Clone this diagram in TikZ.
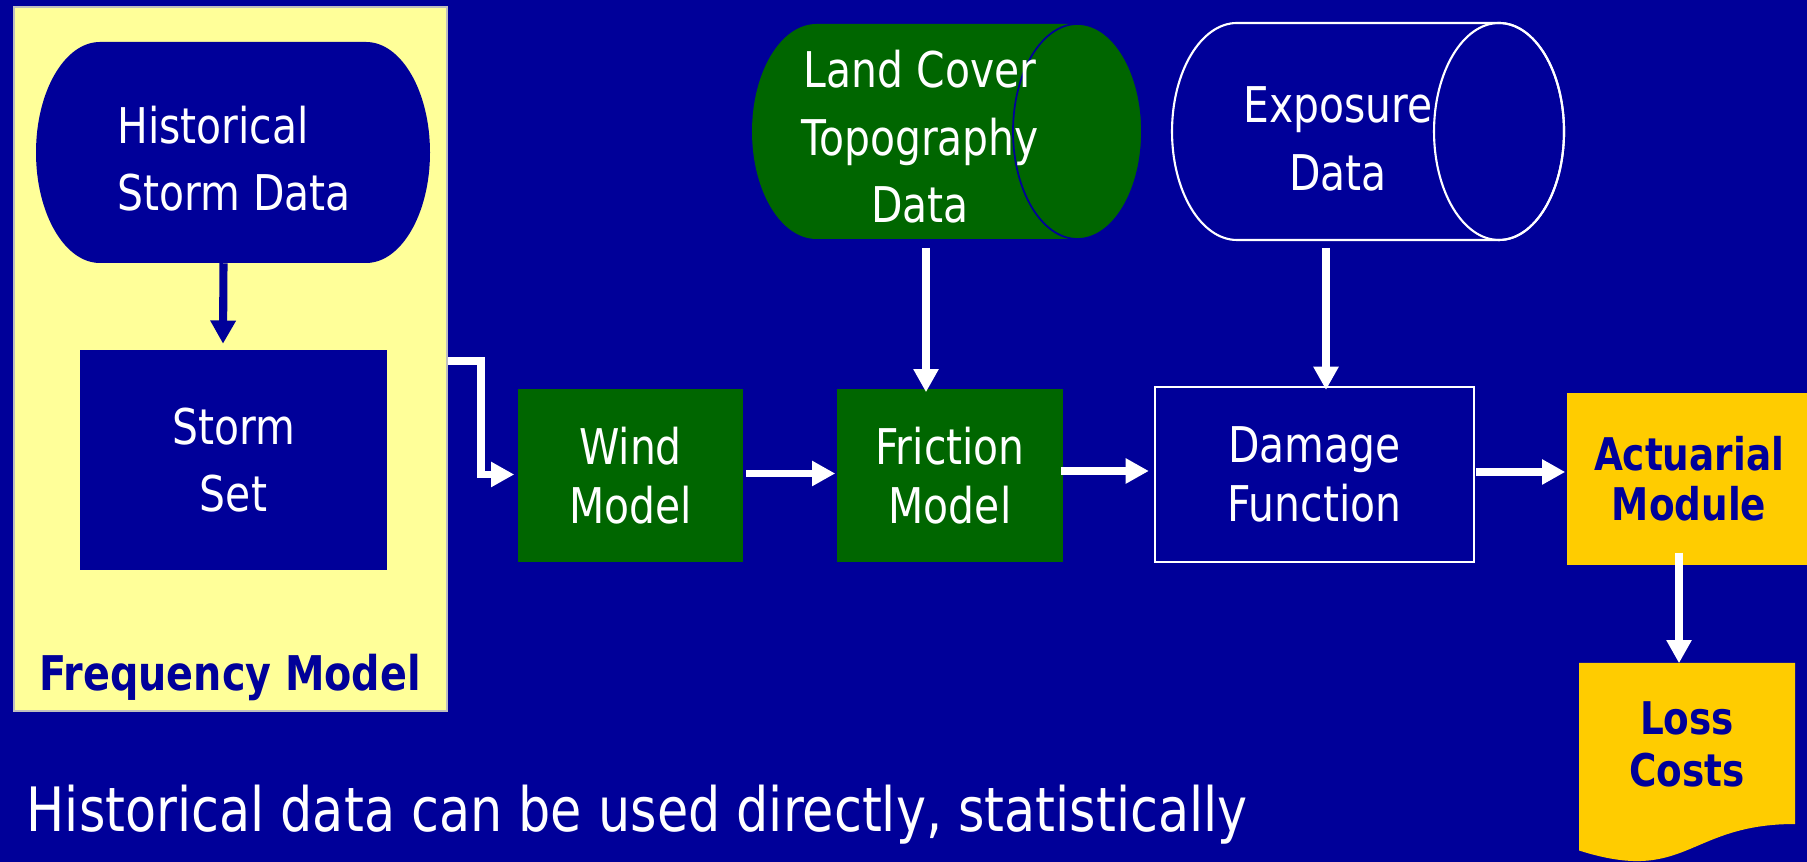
\documentclass[tikz,border=0pt]{standalone}
\usepackage{fontspec}
\setmainfont{DejaVu Sans}[FakeStretch=0.83]
\usetikzlibrary{arrows.meta,calc,positioning}

\definecolor{bgblue}{RGB}{0,0,153}
\definecolor{modelgreen}{RGB}{0,102,0}
\definecolor{panelyellow}{RGB}{255,255,153}
\definecolor{actgold}{RGB}{255,204,0}

\newcommand\lblfont{\fontsize{14}{19.2}\selectfont}
\newcommand\modelfont{\fontsize{14}{16.6}\selectfont}
\newcommand\actfont{\fontsize{12.8}{14.3}\selectfont\bfseries}
\newcommand\freqfont{\fontsize{13.6}{15}\selectfont\bfseries}
\newcommand\notefont{\fontsize{17.4}{20}\selectfont}

\begin{document}
\begin{tikzpicture}[x=0.01cm,y=-0.01cm,
    modelbox/.style={rectangle,inner sep=0pt,align=center,text=white,font=\lblfont},
    greenbox/.style={modelbox,fill=modelgreen,font=\modelfont},
    goldbox/.style={rectangle,inner sep=0pt,align=center,text=bgblue,font=\actfont},
    warrow/.style={white,line width=2.2pt,-{Triangle[length=6.6pt,width=6.8pt]}},
    barrow/.style={bgblue,line width=2.3pt,-{Triangle[length=6.6pt,width=6.9pt]}}]
    \useasboundingbox (0,0) rectangle (1807,862);
    \fill[bgblue] (0,0) rectangle (1807,862);

    % frequency model panel
    \node[fill=panelyellow,draw=gray!50,line width=0.5pt,minimum width=4.33cm,minimum height=7.04cm] (panel) at (230.5,359) {};
    \node[anchor=base,text=bgblue,font=\freqfont] (freqlbl) at (230,691) {Frequency Model};
    \fill[bgblue] (100,42) -- (366,42) arc[start angle=-90,end angle=90,x radius=64,y radius=110.5]
        -- (100,263) arc[start angle=90,end angle=270,x radius=64,y radius=110.5] -- cycle;
    \node[modelbox,align=left,minimum width=3.94cm,minimum height=2.2cm] (hist) at (234,158.5) {Historical\\Storm Data};
    \node[modelbox,fill=bgblue,minimum width=3.07cm,minimum height=2.19cm] (set) at (233.5,460) {Storm\\Set};
    \draw[barrow] ($(hist.south)+(-10.5,-6)$) -- ($(set.north)+(-10.5,-6)$);

    % data sources
    \fill[modelgreen] (816.5,24) -- (1077.5,24) arc[start angle=-90,end angle=90,x radius=64.5,y radius=107.5]
        -- (816.5,239) arc[start angle=90,end angle=270,x radius=64.5,y radius=107.5] -- cycle;
    \draw[bgblue,line width=0.5pt] (1077.5,131.5) ellipse[x radius=64.5,y radius=107.5];
    \node[modelbox,minimum height=2.15cm] (land) at (920,137) {Land Cover\\Topography\\Data};
    \draw[white,line width=0.6pt,fill=bgblue] (1237,23) -- (1499,23) arc[start angle=-90,end angle=90,x radius=65,y radius=108.5]
        -- (1237,240) arc[start angle=90,end angle=270,x radius=65,y radius=108.5] -- cycle;
    \draw[white,line width=0.6pt] (1499,131.5) ellipse[x radius=65,y radius=108.5];
    \node[modelbox,minimum height=2.17cm] (expo) at (1338,139) {Exposure\\Data};

    % model chain
    \node[greenbox,minimum width=2.25cm,minimum height=1.72cm] (wind) at (630.5,475.5) {Wind\\Model};
    \node[greenbox,minimum width=2.26cm,minimum height=1.72cm] (fric) at (950,475.5) {Friction\\Model};
    \node[modelbox,font=\modelfont,fill=bgblue,draw=white,line width=0.6pt,minimum width=3.19cm,minimum height=1.75cm] (dmg) at (1314.5,474.5) {Damage\\Function};
    \node[goldbox,fill=actgold,minimum width=2.44cm,minimum height=1.71cm] (act) at (1689,479) {Actuarial\\Module};
    \fill[actgold] (1579,663) -- (1795,663) -- (1795,824) .. controls (1687,824) and (1687,885) .. (1579,850.5) -- cycle;
    \node[goldbox,minimum width=2.16cm,minimum height=1.61cm,font=\fontsize{12.8}{14.8}\selectfont\bfseries] (loss) at (1687,744.5) {Loss\\Costs};

    \coordinate (bend) at (481,361);
    \draw[warrow] (bend -| panel.east) -- (bend) |- ($(wind.west)+(-3,-1)$);
    \draw[warrow] ($(wind.east)+(2,-2)$) -- ($(fric.west)+(-1,-2)$);
    \draw[warrow] ($(fric.east)+(-3,-4.5)$) -- ($(dmg.west)+(-5,-3.5)$);
    \draw[warrow] ($(dmg.east)+(1,-2.5)$) -- ($(dmg.east -| act.west)+(-1,-2.5)$);
    \draw[warrow] ($(land.south)+(6,2.5)$) -- ($(fric.north)+(-24,3.5)$);
    \draw[warrow] ($(expo.south)+(-12,-0.5)$) -- ($(dmg.north)+(11.5,4)$);
    \draw[warrow] ($(act.south)+(-10,-12.5)$) -- ($(loss.north)+(-8,0)$);

    \node[anchor=base west,text=white,font=\notefont,inner sep=0pt] (note) at (26,832) {Historical data can be used directly, statistically};
\end{tikzpicture}
\end{document}
